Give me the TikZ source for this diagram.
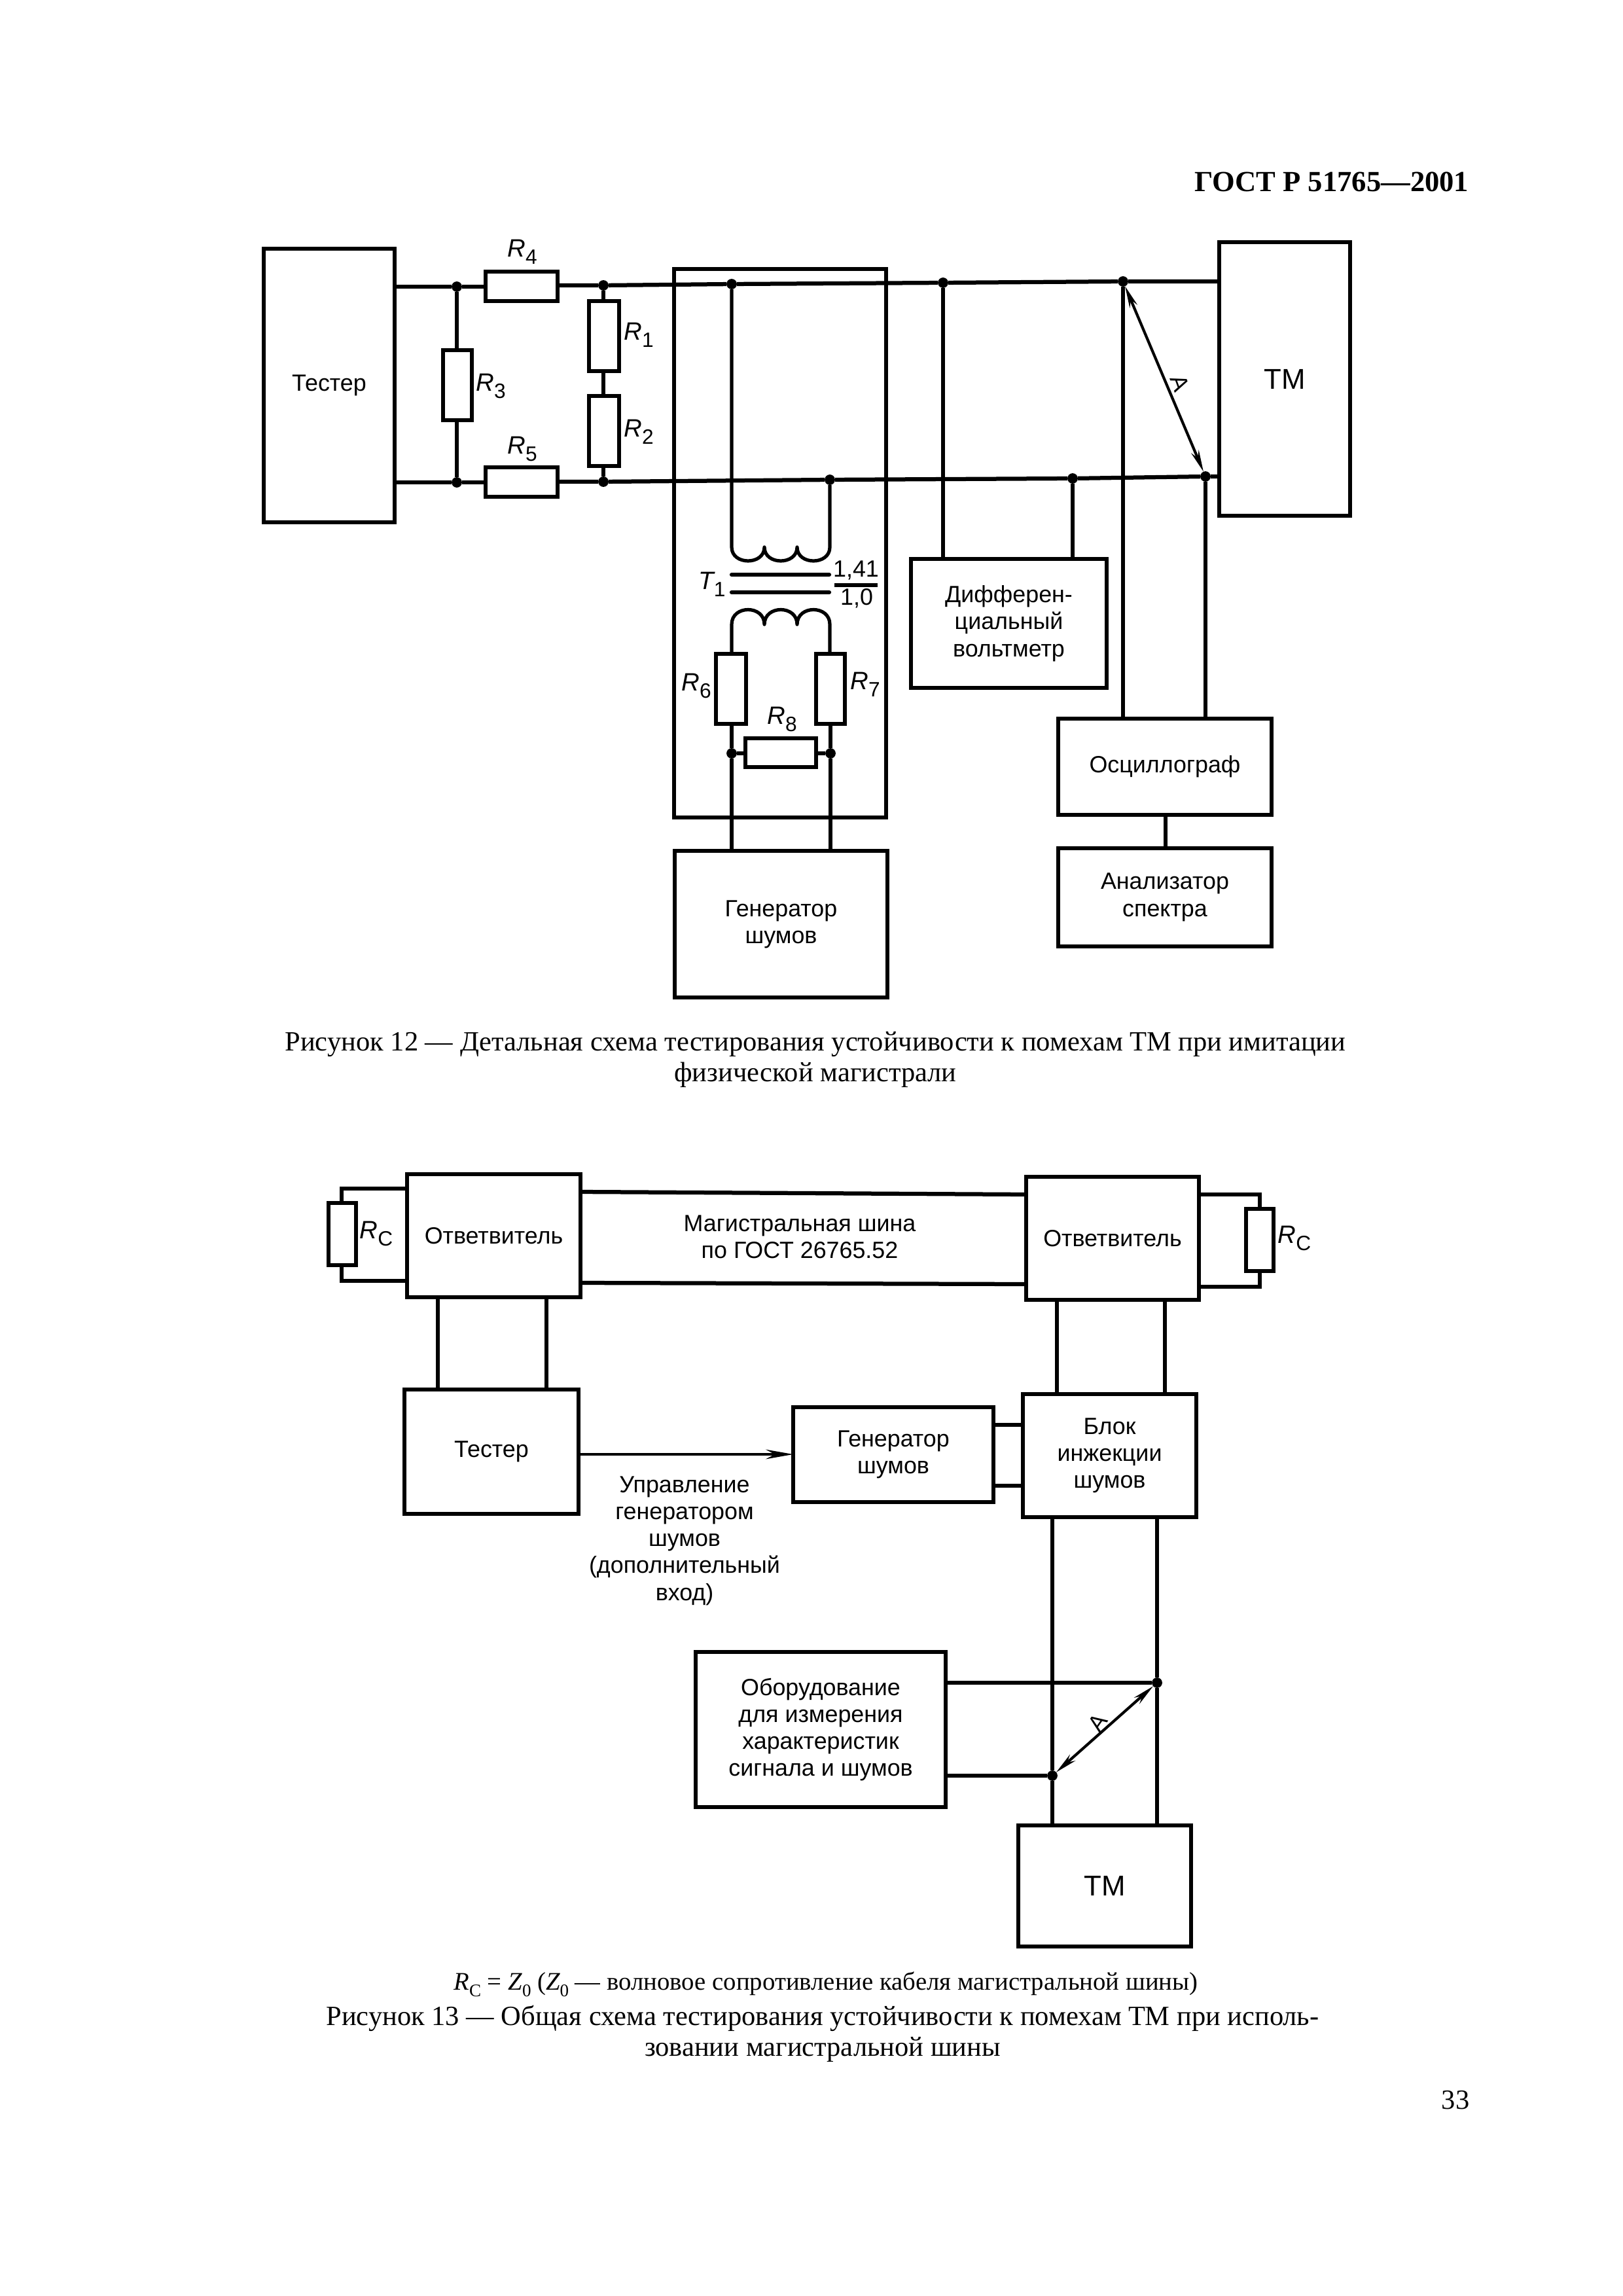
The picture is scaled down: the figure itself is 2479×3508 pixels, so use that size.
\documentclass[tikz,border=0pt]{standalone}
\usepackage{fontspec}
\setmainfont{Liberation Serif}
\newfontfamily\dsans{Liberation Sans}
\usetikzlibrary{arrows.meta,calc}
\tikzset{
  px/.style={x=0.24pt,y=-0.24pt},
  boxn/.style={draw,line width=1.5pt,inner sep=0pt,outer sep=0pt,align=center,font=\dsans\fontsize{8.6}{9.9}\selectfont},
  wire/.style={line width=1.5pt},
  thinw/.style={line width=1.25pt},
  dotn/.style={circle,fill=black,inner sep=0pt,minimum size=3.8pt,outer sep=0pt},
  lab/.style={inner sep=0pt,align=center,font=\dsans\fontsize{8.6}{9.9}\selectfont},
  captxt/.style={inner sep=0pt,align=center,font=\fontsize{10.2}{11.3}\selectfont},
  dimarr/.style={line width=1pt,{Stealth[length=8pt,width=3pt]}-{Stealth[length=8pt,width=3pt]}}
}
\newcommand{\bx}[6]{\node[boxn,minimum width={(#4-#2)*0.24pt},minimum height={(#5-#3)*0.24pt}] (#1) at ({(#2+#4)/2},{(#3+#5)/2}) {#6};}
\newcommand{\Rsub}[2]{{\fontsize{9.2}{9.9}\selectfont\itshape #1}\raisebox{-0.3em}{\fontsize{7.6}{8}\selectfont #2}}
\begin{document}
\begin{tikzpicture}[px]
\useasboundingbox (0,0) rectangle (2479,3508);
\node[inner sep=0pt,anchor=east,font=\bfseries\fontsize{10.7}{14}\selectfont] (hdr) at (2245,278) {ГОСТ Р 51765—2001};
% Figure 12 boxes
\bx{test}{403}{380}{603}{798}{Тестер}
\bx{tm}{1863}{370}{2063}{788}{\fontsize{10.5}{12}\selectfont ТМ}
\bx{r4}{742}{415}{852}{460}{}
\bx{r5}{742}{714}{852}{759}{}
\bx{r3}{677}{535}{721}{642}{}
\bx{r1}{900}{460}{946}{567}{}
\bx{r2}{900}{605}{946}{712}{}
\bx{trf}{1030}{411}{1354}{1249}{}
\bx{r6}{1094}{999}{1140}{1106}{}
\bx{r7}{1247}{999}{1291}{1106}{}
\bx{r8}{1139}{1128}{1247}{1172}{}
\bx{gen}{1031}{1300}{1356}{1524}{Генератор\\шумов}
\bx{dv}{1392}{854}{1691}{1051}{Дифферен-\\циальный\\вольтметр}
\bx{osc}{1617}{1098}{1943}{1245}{Осциллограф}
\bx{ana}{1617}{1296}{1943}{1446}{Анализатор\\спектра}
% junctions top
\node[dotn] (j1) at (698,438) {};
\node[dotn] (j2) at (922,436) {};
\node[dotn] (j3) at (1118,434) {};
\node[dotn] (j4) at (1441,432) {};
\node[dotn] (j5) at (1716,430) {};
% junctions bottom
\node[dotn] (k1) at (698,737) {};
\node[dotn] (k2) at (922,736) {};
\node[dotn] (k3) at (1268,733) {};
\node[dotn] (k4) at (1639,731) {};
\node[dotn] (k5) at (1842,728) {};
\node[dotn] (m1) at (1118,1151) {};
\node[dotn] (m2) at (1269,1151) {};
% wires
\draw[wire] (test.east |- j1) -- (j1) -- (r4.west |- j1);
\draw[wire] (r4.east |- j2) -- (j2) -- (j3) -- (j4) -- (j5) -- (tm.west |- j5);
\draw[wire] (test.east |- k1) -- (k1) -- (r5.west |- k1);
\draw[wire] (r5.east |- k2) -- (k2) -- (k3) -- (k4) -- (k5) -- (tm.west |- k5);
\draw[thinw] (j1) -- (r3.north -| j1);
\draw[thinw] (r3.south -| k1) -- (k1);
\draw[thinw] (j2) -- (r1.north -| j2);
\draw[thinw] (r1.south -| j2) -- (r2.north -| j2);
\draw[thinw] (r2.south -| k2) -- (k2);
% transformer
\coordinate (u1) at (1118,836);
\coordinate (u2) at (1168,836);
\coordinate (u3) at (1218,836);
\coordinate (u4) at (1268,836);
\coordinate (l1) at (1118,954);
\coordinate (l2) at (1168,954);
\coordinate (l3) at (1218,954);
\coordinate (l4) at (1268,954);
\draw[thinw,line join=round] (j3) -- (u1) .. controls (1118,864) and (1168,864) .. (u2) .. controls (1168,864) and (1218,864) .. (u3) .. controls (1218,864) and (1268,864) .. (u4) -- (k3);
\draw[thinw,line join=round] (r6.north -| l1) -- (l1) .. controls (1118,924) and (1168,924) .. (l2) .. controls (1168,924) and (1218,924) .. (l3) .. controls (1218,924) and (1268,924) .. (l4) -- (r7.north -| l4);
\coordinate (c1) at (1118,878); \coordinate (c2) at (1267,878);
\coordinate (c3) at (1118,905); \coordinate (c4) at (1267,905);
\draw[wire,line cap=round] (c1) -- (c2);
\draw[wire,line cap=round] (c3) -- (c4);
\draw[thinw] (r6.south -| m1) -- (m1) -- (gen.north -| m1);
\draw[thinw] (r7.south -| m2) -- (m2) -- (gen.north -| m2);
\draw[thinw] (m1) -- (r8.west |- m1);
\draw[thinw] (r8.east |- m2) -- (m2);
% instruments
\draw[thinw] (j4) -- (dv.north -| j4);
\draw[thinw] (k4) -- (dv.north -| k4);
\draw[thinw] (j5) -- (osc.north -| j5);
\draw[thinw] (k5) -- (osc.north -| k5);
\coordinate (oa) at (1781,1270);
\draw[thinw] (osc.south -| oa) -- (ana.north -| oa);
\draw[dimarr] (j5) -- (k5);
\node[lab,rotate=-70,font=\dsans\fontsize{8.5}{9}\selectfont] (la) at (1803,585) {А};
% labels fig 12
\node[lab] (lr4) at (798,385) {\Rsub{R}{4}};
\node[lab] (lr5) at (798,686) {\Rsub{R}{5}};
\node[lab] (lr3) at (750,590) {\Rsub{R}{3}};
\node[lab] (lr1) at (976,512) {\Rsub{R}{1}};
\node[lab] (lr2) at (976,660) {\Rsub{R}{2}};
\node[lab] (lr6) at (1064,1048) {\Rsub{R}{6}};
\node[lab] (lr7) at (1322,1046) {\Rsub{R}{7}};
\node[lab] (lr8) at (1195,1099) {\Rsub{R}{8}};
\node[lab] (lt1) at (1088,893) {\Rsub{T}{1}};
\node[lab] (n1) at (1308,871) {1,41};
\node[lab] (n2) at (1309,914) {1,0};
\coordinate (fb1) at (1275,894); \coordinate (fb2) at (1341,894);
\draw[thinw] (fb1) -- (fb2);
% caption 12
\node[captxt] (cap12) at (1246,1619) {Рисунок 12 — Детальная схема тестирования устойчивости к помехам ТМ при имитации\\физической магистрали};
% Figure 13
\bx{cpl}{622}{1794}{887}{1982}{Ответвитель}
\bx{cpr}{1568}{1798}{1832}{1986}{Ответвитель}
\bx{rcl}{502}{1838}{544}{1933}{}
\bx{rcr}{1904}{1847}{1946}{1942}{}
\bx{tst}{618}{2123}{884}{2313}{Тестер}
\bx{gns}{1212}{2150}{1518}{2295}{Генератор\\шумов}
\bx{blk}{1563}{2130}{1828}{2318}{Блок\\инжекции\\шумов}
\bx{eq}{1063}{2524}{1445}{2761}{Оборудование\\для измерения\\характеристик\\сигнала и шумов}
\bx{tmb}{1556}{2789}{1820}{2974}{\fontsize{10.5}{12}\selectfont ТМ}
% bus
\coordinate (b1) at (887,1821); \coordinate (b2) at (1568,1825);
\coordinate (b3) at (887,1960); \coordinate (b4) at (1568,1962);
\draw[wire] (cpl.east |- b1) -- (cpr.west |- b2);
\draw[wire] (cpl.east |- b3) -- (cpr.west |- b4);
\node[lab] (busl) at (1222,1890) {Магистральная шина\\по ГОСТ 26765.52};
% terminators
\coordinate (t1) at (522,1816); \coordinate (t2) at (522,1957);
\draw[thinw] (cpl.west |- t1) -- (t1) -- (rcl.north -| t1);
\draw[thinw] (rcl.south -| t2) -- (t2) -- (cpl.west |- t2);
\coordinate (t3) at (1925,1825); \coordinate (t4) at (1925,1966);
\draw[thinw] (cpr.east |- t3) -- (t3) -- (rcr.north -| t3);
\draw[thinw] (rcr.south -| t4) -- (t4) -- (cpr.east |- t4);
\node[lab] (lrcl) at (575,1885) {\Rsub{R}{C}};
\node[lab] (lrcr) at (1978,1892) {\Rsub{R}{C}};
% vertical links
\coordinate (v1) at (669,2050); \coordinate (v2) at (835,2050);
\draw[thinw] (cpl.south -| v1) -- (tst.north -| v1);
\draw[thinw] (cpl.south -| v2) -- (tst.north -| v2);
\coordinate (v3) at (1615,2050); \coordinate (v4) at (1780,2050);
\draw[thinw] (cpr.south -| v3) -- (blk.north -| v3);
\draw[thinw] (cpr.south -| v4) -- (blk.north -| v4);
\coordinate (g1) at (1540,2177); \coordinate (g2) at (1540,2270);
\draw[thinw] (gns.east |- g1) -- (blk.west |- g1);
\draw[thinw] (gns.east |- g2) -- (blk.west |- g2);
\coordinate (arr) at (1000,2222);
\draw[line width=1pt,-{Stealth[length=10pt,width=3.5pt]}] (tst.east |- arr) -- (gns.west |- arr);
\node[lab] (ctl) at (1046,2354) {Управление\\генератором\\шумов\\(дополнительный\\вход)};
% lower part
\node[dotn] (d1) at (1768,2571) {};
\node[dotn] (d2) at (1608,2713) {};
\draw[thinw] (blk.south -| d2) -- (d2) -- (tmb.north -| d2);
\draw[thinw] (blk.south -| d1) -- (d1) -- (tmb.north -| d1);
\draw[wire] (eq.east |- d1) -- (d1);
\draw[wire] (eq.east |- d2) -- (d2);
\draw[dimarr] (d1) -- (d2);
\node[lab,rotate=55,font=\dsans\fontsize{8.5}{9}\selectfont] (lb) at (1677,2632) {А};
% caption 13
\node[captxt,font=\fontsize{9.3}{11}\selectfont] (cap0) at (1262,3032) {{\itshape R}\raisebox{-0.25em}{\fontsize{6.5}{7}\selectfont С} = {\itshape Z}\raisebox{-0.25em}{\fontsize{6.5}{7}\selectfont 0} ({\itshape Z}\raisebox{-0.25em}{\fontsize{6.5}{7}\selectfont 0} — волновое сопротивление кабеля магистральной шины)};
\node[captxt] (cap13) at (1257,3107) {Рисунок 13 — Общая схема тестирования устойчивости к помехам ТМ при исполь-\\зовании магистральной шины};
\node[inner sep=0pt,font=\fontsize{10.2}{12}\selectfont] (pg) at (2224,3209) {33};
\end{tikzpicture}
\end{document}
